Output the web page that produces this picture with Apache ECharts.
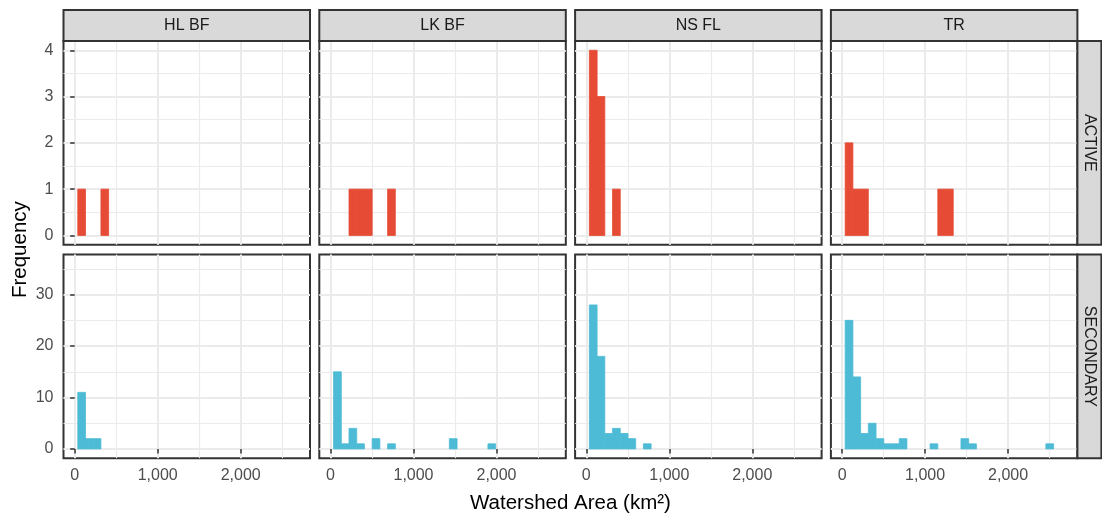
<!DOCTYPE html>
<html>
<head>
<meta charset="utf-8">
<script src="https://cdn.jsdelivr.net/npm/echarts@6/dist/echarts.min.js"></script>
<style>
  html, body { margin: 0; padding: 0; background: #ffffff; }
  #chart { width: 1102px; height: 516px; }
</style>
</head>
<body>
<div id="chart"></div>
<script>
// Facet columns (areas) and facet rows (status)
const areas = ['HL BF', 'LK BF', 'NS FL', 'TR'];
const statuses = ['ACTIVE', 'SECONDARY'];

// Histogram bin edges, km²
const binEdges = [37, 130, 223, 316, 409, 502, 595, 688, 781, 874, 967, 1060, 1153, 1246, 1339,
                  1432, 1525, 1618, 1711, 1804, 1897, 1990, 2083, 2176, 2269, 2362, 2455, 2548,
                  2641, 2734, 2827];

// Counts per bin for each facet
const activeHLBF = [1, 0, 0, 1, 0, 0, 0, 0, 0, 0, 0, 0, 0, 0, 0, 0, 0, 0, 0, 0, 0, 0, 0, 0, 0, 0, 0, 0, 0, 0];
const activeLKBF = [0, 0, 1, 1, 1, 0, 0, 1, 0, 0, 0, 0, 0, 0, 0, 0, 0, 0, 0, 0, 0, 0, 0, 0, 0, 0, 0, 0, 0, 0];
const activeNSFL = [4, 3, 0, 1, 0, 0, 0, 0, 0, 0, 0, 0, 0, 0, 0, 0, 0, 0, 0, 0, 0, 0, 0, 0, 0, 0, 0, 0, 0, 0];
const activeTR   = [2, 1, 1, 0, 0, 0, 0, 0, 0, 0, 0, 0, 1, 1, 0, 0, 0, 0, 0, 0, 0, 0, 0, 0, 0, 0, 0, 0, 0, 0];
const secondaryHLBF = [11, 2, 2, 0, 0, 0, 0, 0, 0, 0, 0, 0, 0, 0, 0, 0, 0, 0, 0, 0, 0, 0, 0, 0, 0, 0, 0, 0, 0, 0];
const secondaryLKBF = [15, 1, 4, 1, 0, 2, 0, 1, 0, 0, 0, 0, 0, 0, 0, 2, 0, 0, 0, 0, 1, 0, 0, 0, 0, 0, 0, 0, 0, 0];
const secondaryNSFL = [28, 18, 3, 4, 3, 2, 0, 1, 0, 0, 0, 0, 0, 0, 0, 0, 0, 0, 0, 0, 0, 0, 0, 0, 0, 0, 0, 0, 0, 0];
const secondaryTR   = [25, 14, 3, 5, 2, 1, 1, 2, 0, 0, 0, 1, 0, 0, 0, 2, 1, 0, 0, 0, 0, 0, 0, 0, 0, 0, 1, 0, 0, 0];

// Axis ticks
const xTicks = [0, 1000, 2000];
const xMinorTicks = [500, 1500, 2500];
const yTicksActive = [0, 1, 2, 3, 4];
const yMinorActive = [0.5, 1.5, 2.5, 3.5];
const yTicksSecondary = [0, 10, 20, 30];
const yMinorSecondary = [5, 15, 25, 35];

// Axis extents (padded around the data range)
const xRange = [-135, 2835];
const yRangeActive = [-0.2, 4.2];
const yRangeSecondary = [-1.8, 37.8];

const counts = [
  [activeHLBF, activeLKBF, activeNSFL, activeTR],
  [secondaryHLBF, secondaryLKBF, secondaryNSFL, secondaryTR]
];
const rowColors = ['#E64B35', '#4DBBD5'];
const rowYTicks = [yTicksActive, yTicksSecondary];
const rowYMinor = [yMinorActive, yMinorSecondary];
const rowYRange = [yRangeActive, yRangeSecondary];

// Panel layout (px)
const FONT = "'Liberation Sans', Arial, sans-serif";
const TICK_FONT = 16;
const TITLE_FONT = 20.5;
const colLeft = 63.5, colStep = 255.8, panelW = 246.5;
const rowTops = [41, 254.5], panelH = 203.7;
const stripTop = 10, stripH = 31, sideStripW = 24;
const borderColor = '#333333';
const gridColor = '#EBEBEB';

const grids = [], xAxes = [], yAxes = [], series = [], graphics = [];

statuses.forEach((status, r) => {
  areas.forEach((area, c) => {
    const idx = r * areas.length + c;
    const left = colLeft + c * colStep;
    grids.push({
      left: left, top: rowTops[r], width: panelW, height: panelH,
      show: true, backgroundColor: '#ffffff', borderColor: borderColor, borderWidth: 2
    });
    const showX = r === statuses.length - 1;
    const showY = c === 0;
    // major x axis
    xAxes.push({
      type: 'value', gridIndex: idx, min: xRange[0], max: xRange[1], position: 'bottom',
      axisLine: { show: false },
      axisTick: { show: showX, customValues: xTicks, length: 4.5, lineStyle: { color: borderColor, width: 1.5 } },
      axisLabel: {
        show: showX, customValues: xTicks, margin: 9, fontSize: TICK_FONT, color: '#4D4D4D', fontFamily: FONT,
        formatter: v => Number(v).toLocaleString('en-US')
      },
      splitLine: { show: true, lineStyle: { color: gridColor, width: 2 } }
    });
    // minor x axis (grid lines only)
    xAxes.push({
      type: 'value', gridIndex: idx, min: xRange[0], max: xRange[1], position: 'bottom',
      axisLine: { show: false },
      axisTick: { show: false, customValues: xMinorTicks },
      axisLabel: { show: false, customValues: xMinorTicks },
      splitLine: { show: true, lineStyle: { color: gridColor, width: 1.2 } }
    });
    // major y axis
    yAxes.push({
      type: 'value', gridIndex: idx, min: rowYRange[r][0], max: rowYRange[r][1], position: 'left',
      axisLine: { show: false },
      axisTick: { show: showY, customValues: rowYTicks[r], length: 4.5, lineStyle: { color: borderColor, width: 1.5 } },
      axisLabel: {
        show: showY, customValues: rowYTicks[r], margin: 10, fontSize: TICK_FONT, color: '#4D4D4D', fontFamily: FONT,
        formatter: v => String(v)
      },
      splitLine: { show: true, lineStyle: { color: gridColor, width: 2 } }
    });
    // minor y axis (grid lines only)
    yAxes.push({
      type: 'value', gridIndex: idx, min: rowYRange[r][0], max: rowYRange[r][1], position: 'left',
      axisLine: { show: false },
      axisTick: { show: false, customValues: rowYMinor[r] },
      axisLabel: { show: false, customValues: rowYMinor[r] },
      splitLine: { show: true, lineStyle: { color: gridColor, width: 1.2 } }
    });

    // histogram bins with a non-zero count
    const data = [];
    counts[r][c].forEach((n, k) => {
      if (n > 0) data.push([binEdges[k], binEdges[k + 1], n]);
    });
    const color = rowColors[r];
    series.push({
      type: 'custom', name: status + ' ' + area,
      xAxisIndex: idx * 2, yAxisIndex: idx * 2,
      encode: { x: [0, 1], y: 2 },
      data: data,
      z: 5,
      renderItem: (params, api) => {
        const p0 = api.coord([api.value(0), api.value(2)]);
        const p1 = api.coord([api.value(1), 0]);
        return {
          type: 'rect',
          shape: { x: p0[0], y: p0[1], width: p1[0] - p0[0], height: p1[1] - p0[1] },
          style: { fill: color, stroke: color, lineWidth: 0.8 }
        };
      }
    });

    // column strip
    if (r === 0) {
      graphics.push({
        type: 'rect', z: 10,
        shape: { x: left, y: stripTop, width: panelW, height: stripH },
        style: { fill: '#D9D9D9', stroke: borderColor, lineWidth: 2 }
      });
      graphics.push({
        type: 'text', z: 11, x: left + panelW / 2, y: stripTop + stripH / 2 + 0.5,
        style: { text: area, fontSize: TICK_FONT, fontFamily: FONT, fill: '#1A1A1A', align: 'center', verticalAlign: 'middle' }
      });
    }
  });
  // row strip
  const stripX = colLeft + (areas.length - 1) * colStep + panelW;
  graphics.push({
    type: 'rect', z: 10,
    shape: { x: stripX, y: rowTops[r], width: sideStripW, height: panelH },
    style: { fill: '#D9D9D9', stroke: borderColor, lineWidth: 2 }
  });
  graphics.push({
    type: 'text', z: 11, x: stripX + sideStripW / 2, y: rowTops[r] + panelH / 2, rotation: -Math.PI / 2,
    style: { text: status, fontSize: TICK_FONT, fontFamily: FONT, fill: '#1A1A1A', align: 'center', verticalAlign: 'middle' }
  });
});

// shared axis titles
const plotLeft = colLeft, plotRight = colLeft + (areas.length - 1) * colStep + panelW;
graphics.push({
  type: 'text', z: 11, x: (plotLeft + plotRight) / 2, y: 503,
  style: { text: 'Watershed Area (km²)', fontSize: TITLE_FONT, fontFamily: FONT, fill: '#000000', align: 'center', verticalAlign: 'middle' }
});
graphics.push({
  type: 'text', z: 11, x: 20, y: (rowTops[0] + rowTops[1] + panelH) / 2, rotation: Math.PI / 2,
  style: { text: 'Frequency', fontSize: TITLE_FONT, fontFamily: FONT, fill: '#000000', align: 'center', verticalAlign: 'middle' }
});

const chart = echarts.init(document.getElementById('chart'), null, { renderer: 'canvas' });
chart.setOption({
  animation: false,
  backgroundColor: '#ffffff',
  grid: grids,
  xAxis: xAxes,
  yAxis: yAxes,
  series: series,
  graphic: { elements: graphics }
});
</script>
</body>
</html>
